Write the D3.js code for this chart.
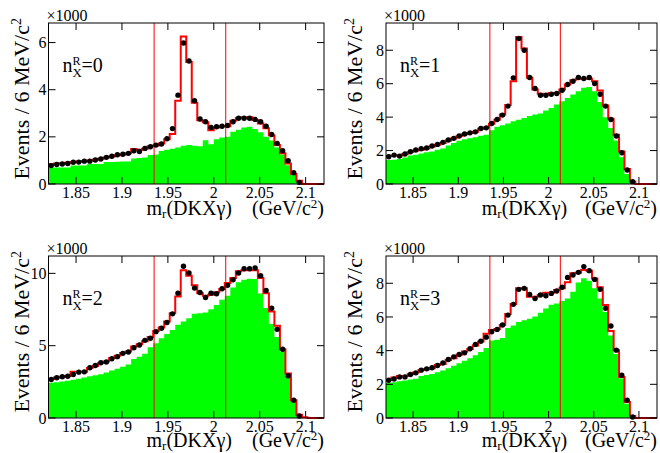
<!DOCTYPE html>
<html>
<head>
<meta charset="UTF-8">
<title>m_r(DKXγ) in bins of n_X^R</title>
<script src="https://d3js.org/d3.v7.min.js"></script>
</head>
<body style="margin:0; background:#fff">
<script>
// binning: 50 bins of 6 MeV between 1.82 and 2.12 GeV
const xLo = 1.82, xHi = 2.12, binW = 0.006;
const xTicks = [1.85, 1.9, 1.95, 2, 2.05, 2.1];
const cutLines = [1.935, 2.013];

// events per bin, in units of 1000
const dataN0 = [0.78,0.83,0.85,0.87,0.92,0.93,0.97,0.97,1.02,1.06,
  1.13,1.18,1.24,1.26,1.30,1.41,1.38,1.51,1.58,1.65,
  1.70,1.92,2.35,3.77,5.98,5.22,3.53,2.76,2.64,2.40,
  2.43,2.45,2.48,2.64,2.79,2.79,2.79,2.74,2.64,2.45,
  2.10,1.72,1.41,0.99,0.48,0.07,0,0,0,0];
const fitN0 = [0.85,0.87,0.88,0.90,0.93,0.95,0.98,1.00,1.03,1.07,
  1.12,1.17,1.22,1.25,1.30,1.48,1.45,1.50,1.60,1.63,
  1.72,1.90,2.12,3.53,6.26,5.18,3.45,2.70,2.62,2.28,
  2.40,2.45,2.45,2.68,2.80,2.83,2.83,2.72,2.57,2.36,
  2.07,1.65,1.30,0.87,0.42,0.14,0,0,0,0];
const bkgN0 = [0.70,0.70,0.70,0.70,0.78,0.78,0.78,0.85,0.85,0.85,
  0.93,0.93,0.94,0.95,0.95,1.08,1.10,1.12,1.23,1.25,
  1.40,1.45,1.50,1.55,1.62,1.65,1.62,1.60,1.86,1.69,
  1.90,1.97,2.00,2.22,2.30,2.40,2.43,2.33,2.20,2.00,
  1.85,1.55,1.25,0.80,0.38,0.08,0,0,0,0];

const dataN1 = [1.63,1.73,1.67,1.79,1.93,2.03,2.11,2.15,2.27,2.37,
  2.49,2.63,2.73,2.87,2.99,3.06,3.12,3.32,3.36,3.62,
  3.86,4.12,4.66,6.35,8.70,8.00,6.37,5.71,5.31,5.31,
  5.37,5.41,5.61,5.95,6.15,6.37,6.31,6.37,6.01,5.37,
  4.66,3.86,2.87,1.87,0.84,0.14,0,0,0,0];
const fitN1 = [1.68,1.70,1.70,1.80,1.92,2.00,2.05,2.12,2.25,2.35,
  2.45,2.60,2.72,2.85,2.98,3.05,3.12,3.30,3.38,3.60,
  3.85,4.15,4.72,6.15,8.80,8.10,6.35,5.65,5.40,5.35,
  5.45,5.45,5.65,5.95,6.20,6.30,6.30,6.30,6.15,5.60,
  4.70,3.90,2.95,1.95,0.90,0.15,0,0,0,0];
const bkgN1 = [1.43,1.45,1.50,1.58,1.70,1.75,1.82,1.90,1.95,2.05,
  2.13,2.30,2.45,2.58,2.68,2.73,2.80,2.88,2.95,3.22,
  3.42,3.52,3.62,3.75,3.85,3.95,4.06,4.15,4.22,4.40,
  4.55,4.75,4.95,5.15,5.35,5.55,5.75,5.80,5.55,4.90,
  4.00,3.35,2.60,1.60,0.60,0.08,0,0,0,0];

const dataN2 = [2.66,2.78,2.85,2.89,3.01,3.17,3.19,3.47,3.63,3.82,
  3.87,4.10,4.24,4.47,4.56,4.86,5.05,5.37,5.51,5.97,
  6.20,6.60,7.20,8.63,10.49,10.02,8.98,8.68,8.33,8.63,
  8.59,8.94,9.17,9.56,10.02,10.32,10.32,10.37,9.84,8.82,
  7.59,6.13,4.75,2.92,1.23,0.14,0,0,0,0];
const fitN2 = [2.70,2.80,2.85,2.90,3.20,3.20,3.20,3.45,3.60,3.80,
  3.90,4.15,4.30,4.50,4.60,4.95,5.10,5.30,5.60,6.02,
  6.25,6.67,7.25,8.40,10.21,9.84,9.17,8.63,8.45,8.52,
  8.70,8.91,9.33,9.68,10.14,10.21,10.21,10.21,9.68,8.63,
  7.36,6.37,4.75,3.08,1.23,0.23,0.05,0,0,0];
const bkgN2 = [2.43,2.48,2.53,2.58,2.65,2.72,2.80,2.88,2.95,3.03,
  3.15,3.28,3.40,3.55,3.70,4.08,4.24,4.45,4.90,5.16,
  5.51,5.81,6.09,6.44,6.67,6.90,7.20,7.25,7.29,7.52,
  7.82,8.17,8.45,9.03,9.38,9.56,9.63,9.61,8.60,7.60,
  6.50,5.60,4.60,2.90,1.10,0.10,0,0,0,0];

const dataN3 = [2.24,2.32,2.44,2.44,2.58,2.68,2.84,2.92,2.98,3.12,
  3.27,3.47,3.63,3.77,3.87,4.11,4.37,4.56,4.80,5.12,
  5.26,5.52,6.11,6.75,7.64,7.70,7.34,7.10,7.30,7.26,
  7.40,7.54,7.76,8.35,8.49,8.65,8.99,8.75,8.23,7.64,
  6.51,5.46,4.03,2.54,1.05,0.06,0,0,0,0];
const fitN3 = [2.25,2.40,2.50,2.50,2.60,2.70,2.85,2.90,2.95,3.15,
  3.20,3.45,3.55,3.75,3.95,4.10,4.30,4.55,5.00,5.22,
  5.28,5.52,6.17,6.77,7.70,7.70,7.20,7.20,7.30,7.44,
  7.44,7.60,7.70,8.06,8.59,8.63,8.79,8.75,8.29,7.76,
  6.71,5.16,4.03,2.44,0.95,0.12,0,0,0,0];
const bkgN3 = [2.08,2.12,2.18,2.22,2.28,2.33,2.50,2.55,2.62,2.72,
  2.82,2.95,3.10,3.25,3.40,3.55,3.72,3.92,4.15,4.60,
  4.65,4.75,5.35,5.50,5.70,5.80,5.90,6.02,6.25,6.50,
  6.72,6.80,6.95,7.10,7.50,8.05,8.30,8.15,7.70,7.10,
  6.30,4.90,3.80,2.35,0.85,0.10,0,0,0,0];

const panelLabels = ["0", "1", "2", "3"];
const yMaxes = [6.83, 9.63, 11.2, 9.62];
const yTickSets = [[0, 2, 4, 6], [0, 2, 4, 6, 8], [0, 5, 10], [0, 2, 4, 6, 8]];

// frame boxes of the four pads (left, right, top, bottom), y title x, x title offset
const frames = [
  { l: 48.5, r: 324, t: 23, b: 184, yt: 29, xt: 31 },
  { l: 386, r: 657, t: 23, b: 184, yt: 362, xt: 31 },
  { l: 48.5, r: 324, t: 256, b: 418, yt: 29, xt: 29 },
  { l: 386, r: 657, t: 256, b: 418, yt: 362, xt: 29 }
];

const panels = [
  { data: dataN0, fit: fitN0, bkg: bkgN0 },
  { data: dataN1, fit: fitN1, bkg: bkgN1 },
  { data: dataN2, fit: fitN2, bkg: bkgN2 },
  { data: dataN3, fit: fitN3, bkg: bkgN3 }
];

const svg = d3.select("body").append("svg")
  .attr("width", 660)
  .attr("height", 453)
  .style("display", "block");

// every text gets the Times-like font inline
function txt(sel, size) {
  return sel.append("text")
    .style("font-family", '"Liberation Serif"')
    .attr("font-size", size);
}

const tickLen = 7;

panels.forEach((p, k) => {
  const f = frames[k];
  const x = d3.scaleLinear().domain([xLo, xHi]).range([f.l, f.r]);
  const y = d3.scaleLinear().domain([0, yMaxes[k]]).range([f.b, f.t]);
  const g = svg.append("g");
  const edge = i => xLo + i * binW;

  // background histogram (filled green)
  const stepPts = [];
  p.bkg.forEach((v, i) => {
    stepPts.push([edge(i), v], [edge(i + 1), v]);
  });
  g.append("path")
    .attr("d", d3.area().x(d => x(d[0])).y0(y(0)).y1(d => y(d[1]))(stepPts))
    .attr("fill", "#00ff00");

  // cut lines
  cutLines.forEach(c => {
    g.append("line")
      .attr("x1", x(c)).attr("x2", x(c))
      .attr("y1", f.t).attr("y2", f.b)
      .attr("stroke", "#ff0000").attr("stroke-width", 1);
  });

  // total fit (red step outline)
  const fitPts = [];
  p.fit.forEach((v, i) => {
    fitPts.push([edge(i), v], [edge(i + 1), v]);
  });
  g.append("path")
    .attr("d", d3.line().x(d => x(d[0])).y(d => y(d[1]))(fitPts))
    .attr("fill", "none")
    .attr("stroke", "#ff0000")
    .attr("stroke-width", 2);

  // data points (empty bins are not drawn)
  g.selectAll("circle.pt")
    .data(p.data.map((v, i) => ({ v, i })).filter(d => d.v > 0))
    .enter().append("circle")
    .attr("class", "pt")
    .attr("cx", d => x(edge(d.i) + binW / 2))
    .attr("cy", d => y(d.v))
    .attr("r", 2.7)
    .attr("fill", "#000");

  // frame
  g.append("rect")
    .attr("x", f.l).attr("y", f.t)
    .attr("width", f.r - f.l).attr("height", f.b - f.t)
    .attr("fill", "none").attr("stroke", "#000").attr("stroke-width", 1);

  // x ticks, bottom and top, pointing inward
  xTicks.forEach(t => {
    g.append("line").attr("x1", x(t)).attr("x2", x(t))
      .attr("y1", f.b).attr("y2", f.b - tickLen).attr("stroke", "#000");
    g.append("line").attr("x1", x(t)).attr("x2", x(t))
      .attr("y1", f.t).attr("y2", f.t + tickLen).attr("stroke", "#000");
    txt(g, 16)
      .attr("x", x(t)).attr("y", f.b + 14)
      .attr("text-anchor", "middle")
      .text(d3.format("")(t));
  });

  // y ticks, left and right
  yTickSets[k].forEach(t => {
    g.append("line").attr("x1", f.l).attr("x2", f.l + tickLen)
      .attr("y1", y(t)).attr("y2", y(t)).attr("stroke", "#000");
    g.append("line").attr("x1", f.r).attr("x2", f.r - tickLen)
      .attr("y1", y(t)).attr("y2", y(t)).attr("stroke", "#000");
    txt(g, 16)
      .attr("x", f.l - 2).attr("y", y(t))
      .attr("dy", "0.35em")
      .attr("text-anchor", "end")
      .text(t);
  });

  // exponent
  txt(g, 16)
    .attr("x", f.l - 2).attr("y", f.t - 2)
    .text("\u00d71000");

  // y title
  const yt = txt(g, 22)
    .attr("transform", `translate(${f.yt},${f.t - 5}) rotate(-90)`)
    .attr("text-anchor", "end");
  yt.append("tspan").text("Events / 6 MeV/c");
  yt.append("tspan").attr("dy", -8).attr("font-size", 14).text("2");

  // x titles
  const xt = txt(g, 20)
    .attr("x", (f.l + f.r) / 2 + 3).attr("y", f.b + f.xt)
    .attr("text-anchor", "middle");
  xt.append("tspan").text("m");
  xt.append("tspan").attr("dy", 3).attr("font-size", 13).text("r");
  xt.append("tspan").attr("dy", -3).text("(DKX\u03b3)");

  const ut = txt(g, 20)
    .attr("x", f.r).attr("y", f.b + f.xt)
    .attr("text-anchor", "end");
  ut.append("tspan").text("(GeV/c");
  ut.append("tspan").attr("dy", -7).attr("font-size", 13).text("2");
  ut.append("tspan").attr("dy", 7).text(")");

  // n_X^R label
  const lx = f.l + 14, ly = f.t + 49;
  txt(g, 20).attr("x", lx).attr("y", ly).text("n");
  txt(g, 12).attr("x", lx + 10).attr("y", ly - 7).text("R");
  txt(g, 13).attr("x", lx + 10).attr("y", ly + 5).text("X");
  txt(g, 20).attr("x", lx + 19).attr("y", ly).text("=" + panelLabels[k]);
});
</script>
</body>
</html>
